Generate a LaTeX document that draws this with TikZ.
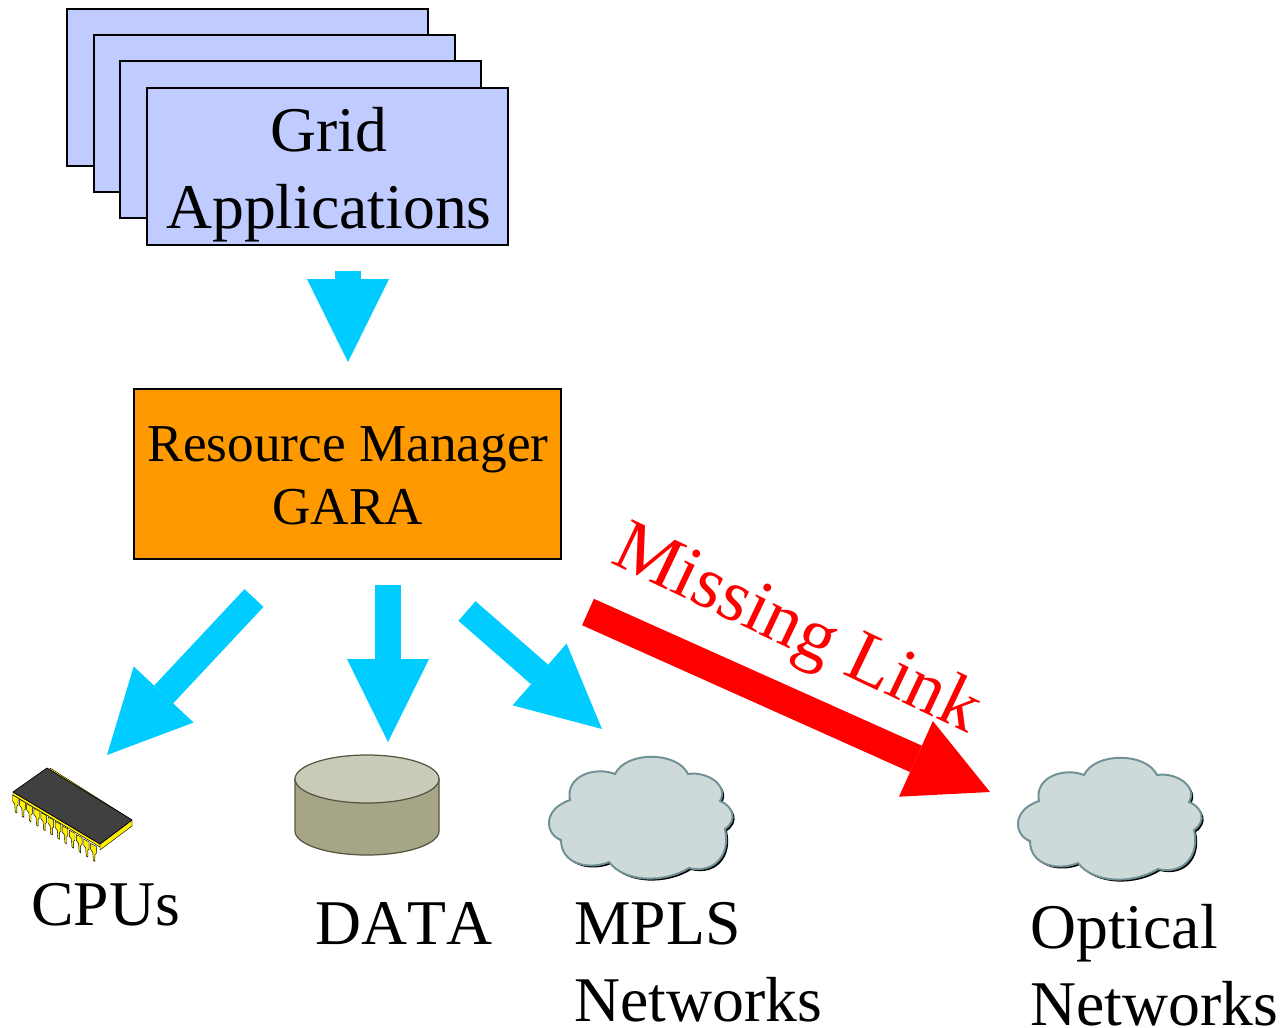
\documentclass[tikz,border=0pt]{standalone}
\usepackage{fontspec}
\setmainfont[Kerning=Off]{Liberation Serif}
\usetikzlibrary{arrows.meta,calc}
\definecolor{appblue}{HTML}{C0CCFF}
\definecolor{mgrorange}{HTML}{FF9900}
\definecolor{flowblue}{HTML}{00CCFF}
\definecolor{cloudfill}{HTML}{CDDAD9}
\definecolor{cloudline}{HTML}{6F9095}
\definecolor{cyltop}{HTML}{C9CBB8}
\definecolor{cylside}{HTML}{A6A687}
\definecolor{cylline}{HTML}{55553F}
\definecolor{chiptop}{HTML}{404040}
\definecolor{pinyellow}{HTML}{FFF000}
\newcommand{\cloudpath}{(615,774) .. controls (626,751) and (677,751) .. (688,774)
  .. controls (708,771) and (729,786) .. (720,801)
  .. controls (733,806) and (738,820) .. (725,829)
  .. controls (731,855) and (714,874) .. (689,868)
  .. controls (665,883) and (625,883) .. (609,862)
  .. controls (590,870) and (561,865) .. (561,840)
  .. controls (546,835) and (541,810) .. (570,800)
  .. controls (565,776) and (595,766) .. (615,774) -- cycle}
\tikzset{
  appbox/.style={draw=black,fill=appblue,line width=1.1pt},
  flow/.style={draw=flowblue,line width=14.74pt,preaction={draw,-,shorten >=25pt},-{Triangle[length=47pt,width=46.5pt,line width=0pt,fill=flowblue]}},
  missing/.style={draw=red,line width=16.4pt,preaction={draw,-,shorten >=25pt},-{Triangle[length=46pt,width=47pt,line width=0pt,fill=red]}},
  big/.style={inner sep=0pt,font=\fontsize{36.1pt}{43.6pt}\selectfont},
  mid/.style={inner sep=0pt,font=\fontsize{30.2pt}{35.7pt}\selectfont},
  pin/.style={fill=pinyellow,draw=black,line width=0.25pt,line join=round},
}
\begin{document}
\begin{tikzpicture}[x=0.5669pt,y=-0.5669pt]
\useasboundingbox (0,0) rectangle (1283,1027);
% application stack
\draw[appbox] (67,9) rectangle (428,166);
\draw[appbox] (94,35) rectangle (455,192);
\draw[appbox] (120,61) rectangle (481,218);
\node[appbox,minimum width=204.6pt,minimum height=89pt,inner sep=0pt] (apps) at (327.5,166.5) {};
\node[big,align=center] (appstext) at (329,175) {Grid\\Applications};
% manager
\node[draw=black,fill=mgrorange,line width=1.1pt,minimum width=242pt,minimum height=96.4pt,inner sep=0pt] (mgr) at (347.5,474) {};
\node[mid,align=center] (mgrtext) at (348,476) {Resource Manager\\GARA};
% arrow ends
\coordinate (a0) at (348,271); \coordinate (a1) at (348,362);
\coordinate (c0) at (254,598); \coordinate (c1) at (107,755);
\coordinate (d0) at (388,585); \coordinate (d1) at (388,742);
\coordinate (m0) at (467,611); \coordinate (m1) at (602,729);
\coordinate (o0) at (588,612); \coordinate (o1) at (990,792);
\draw[flow] (a0) -- (a1);
\draw[flow] (c0) -- (c1);
\draw[flow] (d0) -- (d1);
\draw[flow] (m0) -- (m1);
\draw[missing] (o0) -- (o1);
\node[inner sep=0pt,text=red,rotate=-25.5,font=\fontsize{42pt}{48pt}\selectfont] (mlabel) at (796,632) {Missing Link};
% chip
\draw[pin] (50,768) -- (132,820) -- (132,826) -- (127,823) -- (50,773) -- cycle;
\foreach \i in {0,...,11}{
  \pgfmathsetmacro{\px}{15+\i*7.1}
  \pgfmathsetmacro{\py}{795+\i*4.4}
  \draw[pin] (\px-2.5,\py) -- (\px+3.2,\py+3) -- (\px+3.2,\py+10) -- (\px+1.8,\py+11) -- (\px+1.8,\py+18) -- (\px+0.2,\py+17) -- (\px-0.3,\py+9) -- (\px-2.5,\py+6) -- cycle;
}
\draw[pin] (100,844) -- (132,820) -- (132,826) -- (100,850) -- cycle;
\draw[pin] (13,792) -- (100,844) -- (100,847) -- (13,795) -- cycle;
\fill[chiptop,draw=black,line width=0.4pt,line join=round] (13,792) -- (47,768) -- (132,820) -- (100,844) -- cycle;
% cylinder
\draw[fill=cylside,draw=cylline,line width=0.7pt] (295,779) -- (295,831) arc[start angle=180,end angle=0,x radius=72,y radius=24] -- (439,779) -- cycle;
\draw[fill=cyltop,draw=cylline,line width=0.7pt] (367,779) ellipse[x radius=72,y radius=24];
% clouds
\begin{scope}[shift={(2,2)}]\fill[black] \cloudpath;\end{scope}
\draw[fill=cloudfill,draw=cloudline,line width=1.1pt] \cloudpath;
\begin{scope}[shift={(469,1)}]
  \begin{scope}[shift={(2,2)}]\fill[black] \cloudpath;\end{scope}
  \draw[fill=cloudfill,draw=cloudline,line width=1.1pt] \cloudpath;
\end{scope}
% labels
\node[big,anchor=base west] (cpus) at (31,925) {CPUs};
\node[big,anchor=base west] (data) at (315,944) {DATA};
\node[big,align=left,anchor=west] (mpls) at (574,962) {MPLS\\Networks};
\node[big,align=left,anchor=west] (optical) at (1030,965) {Optical\\Networks};
\end{tikzpicture}
\end{document}
